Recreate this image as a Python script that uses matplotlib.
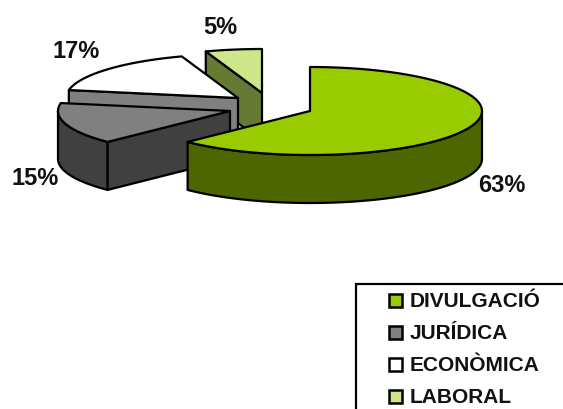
import numpy as np
import matplotlib
matplotlib.use('Agg')
import matplotlib.pyplot as plt
from matplotlib.patches import Polygon, Rectangle

plt.rcParams['font.family'] = ['Liberation Sans', 'DejaVu Sans']

categories = ['DIVULGACIÓ', 'JURÍDICA', 'ECONÒMICA', 'LABORAL']
values = [62.6, 15.3, 16.8, 5.3]
top_colors = ['#99cc00', '#808080', '#ffffff', '#cfe68a']
side_colors = ['#4d6600', '#404040', '#808080', '#667a33']

# exploded apex of each slice, in pixels
centers = [(310, 112), (230, 112), (238, 99), (262, 94)]
label_pos = [(502, 186), (35, 179), (76, 52), (220, 28)]
rx, ry, depth = 172, 44, 48

fig = plt.figure(figsize=(5.63, 4.10), dpi=100)
ax = fig.add_axes([0, 0, 1, 1])
ax.set_xlim(0, 563)
ax.set_ylim(410, 0)
ax.axis('off')


def rim(c, a0, a1):
    a = np.radians(np.linspace(a0, a1, 80))
    return np.column_stack([c[0] + rx * np.sin(a), c[1] - ry * np.cos(a)])


def wall(pts):
    low = pts[::-1] + [0, depth]
    return np.vstack([pts, low])


edges = np.concatenate([[0], np.cumsum(values)]) * 360 / sum(values)
kw = dict(edgecolor='black', linewidth=1.6, joinstyle='round')

# back slices first, the big one goes on top
for i in [3, 2, 1, 0]:
    c = np.array(centers[i])
    a0, a1 = edges[i], edges[i + 1]
    arc = rim(c, a0, a1)
    # outer wall, only the part facing front
    lo, hi = max(a0, 90), min(a1, 270)
    if lo < hi:
        ax.add_patch(Polygon(wall(rim(c, lo, hi)), facecolor=side_colors[i], **kw))
    # the big slice shows no cut face
    if i > 0:
        ax.add_patch(Polygon(wall(np.array([arc[0], c])), facecolor=side_colors[i], **kw))
    ax.add_patch(Polygon(np.vstack([[c], arc]), facecolor=top_colors[i], **kw))

for v, (x, y) in zip(values, label_pos):
    ax.text(x, y, f'{v:.0f}%', fontsize=17, fontweight='bold', ha='center', va='center', color='#111111')

# legend box runs off the picture at the right and the bottom
ax.add_patch(Rectangle((356, 285), 240, 140, facecolor='white', edgecolor='black', linewidth=1.6))
for i, name in enumerate(categories):
    y = 301.5 + i * 32
    ax.add_patch(Rectangle((389, y - 6.5), 13, 13, facecolor=top_colors[i], edgecolor='black', linewidth=1.8))
    ax.text(410, y, name, fontsize=15, fontweight='bold', va='center', color='#111111')

fig.savefig('out.png', dpi=100)
